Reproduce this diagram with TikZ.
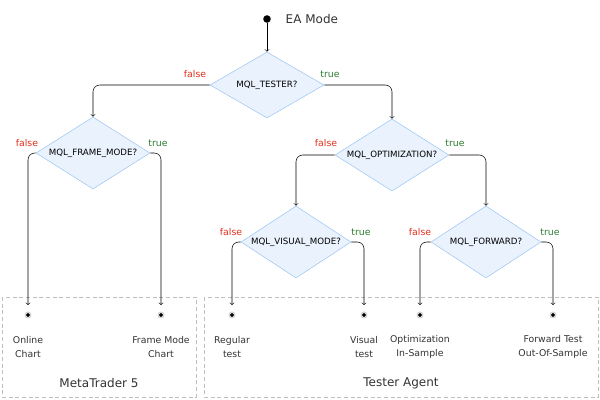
\documentclass[tikz,border=0pt]{standalone}
\usepackage{fontspec}
\setmainfont{DejaVu Sans}
\usetikzlibrary{shapes.geometric}
\definecolor{dfill}{HTML}{EAF3FD}
\definecolor{dline}{HTML}{9CC5F2}
\definecolor{fred}{HTML}{E0301E}
\definecolor{tgreen}{HTML}{2E7D32}
\begin{document}
\begin{tikzpicture}[x=0.75pt,y=-0.75pt,
  cond/.style={diamond,draw=dline,fill=dfill,aspect=1.65,inner sep=0pt,minimum width=114\pgflinewidth,font=\fontsize{6.5}{8}\selectfont},
  flow/.style={->,rounded corners=5pt},
  lf/.style={text=fred,font=\fontsize{7}{8}\selectfont},
  lt/.style={text=tgreen,font=\fontsize{7}{8}\selectfont},
  leaf/.style={circle,fill=black,inner sep=1.6pt,draw=white,double=gray!40,double distance=0.6pt},
  desc/.style={align=center,font=\fontsize{7}{10}\selectfont,text=black!80},
  group/.style={draw=gray!50,densely dashed,thin}]
\useasboundingbox (0,0) rectangle (600,400);

% groups
\draw[group] (2,297) rectangle (196,397);
\draw[group] (204,297) rectangle (598,397);
\node[font=\fontsize{9}{10}\selectfont,text=black!80] (mt) at (99,383) {MetaTrader 5};
\node[font=\fontsize{9}{10}\selectfont,text=black!80] (ta) at (401,383) {Tester Agent};

% start
\node[circle,fill=black,inner sep=2pt] (start) at (267,19) {};
\node[anchor=west,font=\fontsize{9}{10}\selectfont,text=black!80] (title) at (281,19) {EA Mode};

% decisions
\node[cond,minimum width=85.5pt,minimum height=49.5pt] (tester) at (267,85) {MQL\_TESTER?};
\node[cond,minimum width=85.5pt,minimum height=54pt] (frame) at (93,153) {MQL\_FRAME\_MODE?};
\node[cond,minimum width=85.5pt,minimum height=54pt] (optim) at (392,155) {MQL\_OPTIMIZATION?};
\node[cond,minimum width=82.5pt,minimum height=54pt] (visual) at (296,242) {MQL\_VISUAL\_MODE?};
\node[cond,minimum width=82.5pt,minimum height=54pt] (fwd) at (486,242) {MQL\_FORWARD?};

% leaves
\foreach \n/\x/\t in {online/28/{Online\\Chart},fmode/161/{Frame Mode\\Chart},
  regular/232/{Regular\\test},vis/364/{Visual\\test},
  insample/420/{Optimization\\In-Sample},outsample/553/{Forward Test\\Out-Of-Sample}}{
  \node[leaf] (\n) at (\x,315) {};
  \node[desc] (\n-t) at (\x,347) {\t};
}

% connectors
\draw[->] (start) -- (tester);
\draw[flow] (tester.west) -| (frame.north);
\draw[flow] (tester.east) -| (optim.north);
\draw[flow] (frame.west) -| ([yshift=5pt]online.north);
\draw[flow] (frame.east) -| ([yshift=5pt]fmode.north);
\draw[flow] (optim.west) -| (visual.north);
\draw[flow] (optim.east) -| (fwd.north);
\draw[flow] (visual.west) -| ([yshift=5pt]regular.north);
\draw[flow] (visual.east) -| ([yshift=5pt]vis.north);
\draw[flow] (fwd.west) -| ([yshift=5pt]insample.north);
\draw[flow] (fwd.east) -| ([yshift=5pt]outsample.north);

% branch labels
\node[lf] at (195,74) {false};
\node[lt] at (330,74) {true};
\node[lf] at (27,143) {false};
\node[lt] at (158,143) {true};
\node[lf] at (326,143) {false};
\node[lt] at (455,143) {true};
\node[lf] at (231,232) {false};
\node[lt] at (361,232) {true};
\node[lf] at (420,232) {false};
\node[lt] at (550,232) {true};
\end{tikzpicture}
\end{document}
